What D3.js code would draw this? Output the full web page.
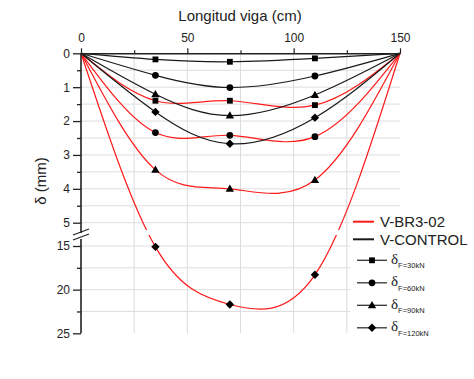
<!DOCTYPE html>
<html><head><meta charset="utf-8">
<script src="https://cdn.jsdelivr.net/npm/d3@7"></script>
<style>body{margin:0;background:#fff;} text{font-family:"Liberation Sans",Arial,sans-serif;fill:#222;}</style>
</head><body>
<svg id="c" width="474" height="379"></svg>
<script>
const positions = [0, 35, 70, 110, 150];
const loadLabels = ["F=30kN", "F=60kN", "F=90kN", "F=120kN"];
const markerTypes = ["square", "circle", "triangle", "diamond"];
const control30 = [0, 0.18, 0.25, 0.15, 0];
const control60 = [0, 0.65, 1.01, 0.67, 0];
const control90 = [0, 1.21, 1.84, 1.23, 0];
const control120 = [0, 1.73, 2.67, 1.90, 0];
const br30 = [0, 1.40, 1.40, 1.53, 0];
const br60 = [0, 2.34, 2.42, 2.46, 0];
const br90 = [0, 3.44, 4.00, 3.74, 0];
const br120 = [0, 15.1, 21.7, 18.3, 0];
const xTicks = [0, 50, 100, 150];
const xMinor = [25, 75, 125];
const yTopTicks = [0, 1, 2, 3, 4, 5];
const yTopMinor = [0.5, 1.5, 2.5, 3.5, 4.5];
const yBotTicks = [15, 20, 25];
const yBotMinor = [17.5, 22.5];
const seriesNames = ["V-BR3-02", "V-CONTROL"];

const RED = "#ff1a1a", BLK = "#1a1a1a";
const svg = d3.select("#c");
const x = d3.scaleLinear().domain([0, 150]).range([81, 400]);
const yTop = d3.scaleLinear().domain([0, 5]).range([53.3, 222.7]);
const yBot = d3.scaleLinear().domain([15, 25]).range([246, 333.3]);
const y = v => v <= 5 ? yTop(v) : yBot(v);

// gridlines
const grid = svg.append("g");
xMinor.concat([50, 100]).forEach(v => {
  grid.append("line").attr("x1", x(v)).attr("x2", x(v)).attr("y1", yTop(0)).attr("y2", yBot(25))
    .attr("stroke", "#dcdcdc").attr("stroke-width", 1);
});
yTopTicks.slice(1).concat(yTopMinor).concat([15, 20]).concat(yBotMinor).forEach(v => {
  grid.append("line").attr("x1", x(0)).attr("x2", x(150)).attr("y1", y(v)).attr("y2", y(v))
    .attr("stroke", "#dedede").attr("stroke-width", 1);
});

// clip paths for break gap
const defs = svg.append("defs");
defs.append("clipPath").attr("id", "cu").append("rect").attr("x", 0).attr("y", 0).attr("width", 474).attr("height", 230);
defs.append("clipPath").attr("id", "cd").append("rect").attr("x", 0).attr("y", 235).attr("width", 474).attr("height", 144);

const line = d3.line().x((d, i) => x(positions[i])).y(d => y(d)).curve(d3.curveNatural);
const sym = {
  square: d3.symbol(d3.symbolSquare, 34),
  circle: d3.symbol(d3.symbolCircle, 36),
  triangle: d3.symbol(d3.symbolTriangle, 30),
  diamond: null
};
function marker(g, type, cx, cy) {
  if (type === "diamond") {
    g.append("path").attr("d", `M${cx},${cy - 4.2}L${cx + 4.2},${cy}L${cx},${cy + 4.2}L${cx - 4.2},${cy}Z`).attr("fill", "#000");
  } else if (type === "triangle") {
    g.append("path").attr("d", sym.triangle()).attr("transform", `translate(${cx},${cy + 0.5})`).attr("fill", "#000");
  } else {
    g.append("path").attr("d", sym[type]()).attr("transform", `translate(${cx},${cy})`).attr("fill", "#000");
  }
}

const controlSeries = [control30, control60, control90, control120];
const brSeries = [br30, br60, br90, br120];
const plot = svg.append("g");
brSeries.forEach((s, k) => {
  if (k === 3) {
    ["cu", "cd"].forEach(c => plot.append("path").attr("d", line(s)).attr("fill", "none")
      .attr("stroke", RED).attr("stroke-width", 1.2).attr("clip-path", `url(#${c})`));
  } else {
    plot.append("path").attr("d", line(s)).attr("fill", "none").attr("stroke", RED).attr("stroke-width", 1.2);
  }
});
controlSeries.forEach(s => {
  plot.append("path").attr("d", line(s)).attr("fill", "none").attr("stroke", BLK).attr("stroke-width", 1.2);
});
brSeries.concat(controlSeries).forEach((s, idx) => {
  const type = markerTypes[idx % 4];
  s.forEach((v, i) => { if (i > 0 && i < s.length - 1) marker(plot, type, x(positions[i]), y(v)); });
});

// top axis
const ax = svg.append("g").attr("transform", `translate(0,${yTop(0)})`);
ax.call(d3.axisTop(x).tickValues(xTicks).tickSize(5).tickSizeOuter(0).tickPadding(6).tickFormat(d3.format("d")));
ax.select(".domain").attr("stroke", "#222").attr("stroke-width", 1.6);
ax.selectAll(".tick line").attr("stroke", "#222").attr("stroke-width", 1.2);
ax.selectAll("text").style("font-size", "12px").style("fill", "#222").attr("font-family", "Liberation Sans");
const axm = svg.append("g").attr("transform", `translate(0,${yTop(0)})`);
axm.call(d3.axisTop(x).tickValues(xMinor).tickSize(3).tickFormat(""));
axm.select(".domain").remove();
axm.selectAll(".tick line").attr("stroke", "#222").attr("stroke-width", 1.2);

// y axes
function yAxis(scale, ticks, minor) {
  const g = svg.append("g").attr("transform", `translate(${x(0)},0)`);
  g.call(d3.axisLeft(scale).tickValues(ticks).tickSize(8).tickPadding(3).tickFormat(d3.format("d")));
  g.select(".domain").remove();
  g.selectAll(".tick line").attr("stroke", "#222").attr("stroke-width", 1.3);
  g.selectAll("text").style("font-size", "12px").style("fill", "#222");
  const m = svg.append("g").attr("transform", `translate(${x(0)},0)`);
  m.call(d3.axisLeft(scale).tickValues(minor).tickSize(4).tickFormat(""));
  m.select(".domain").remove();
  m.selectAll(".tick line").attr("stroke", "#222").attr("stroke-width", 1.3);
}
yAxis(yTop, yTopTicks, yTopMinor);
yAxis(yBot, yBotTicks, yBotMinor);
svg.append("line").attr("x1", x(0)).attr("x2", x(0)).attr("y1", yTop(0)).attr("y2", 233).attr("stroke", "#222").attr("stroke-width", 1.6);
svg.append("line").attr("x1", x(0)).attr("x2", x(0)).attr("y1", 239).attr("y2", yBot(25)).attr("stroke", "#222").attr("stroke-width", 1.6);
[0, 5].forEach(o => svg.append("line").attr("x1", 73).attr("y1", 235 + o).attr("x2", 89).attr("y2", 229 + o)
  .attr("stroke", "#222").attr("stroke-width", 1.2));

// titles
svg.append("text").attr("x", 240).attr("y", 20.5).attr("text-anchor", "middle").style("font-size", "15px").text("Longitud viga (cm)");
svg.append("text").attr("transform", "translate(46,181) rotate(-90)").attr("text-anchor", "middle").style("font-size", "15px").text("δ (mm)");

// legend
const lg = svg.append("g");
lg.append("rect").attr("x", 350).attr("y", 212).attr("width", 124).attr("height", 128).attr("fill", "#fff");
[RED, BLK].forEach((c, i) => {
  const cy = 221.7 + i * 17.6;
  lg.append("line").attr("x1", 353).attr("x2", 374).attr("y1", cy).attr("y2", cy).attr("stroke", c).attr("stroke-width", 2);
  lg.append("text").attr("x", 380).attr("y", cy + 5.3).style("font-size", "15px").text(seriesNames[i]);
});
loadLabels.forEach((lab, i) => {
  const cy = 260.3 + i * 22.5;
  lg.append("line").attr("x1", 357).attr("x2", 387).attr("y1", cy).attr("y2", cy).attr("stroke", "#333").attr("stroke-width", 1.3);
  marker(lg, markerTypes[i], 372, cy);
  const t = lg.append("text").attr("x", 391).attr("y", cy + 3.5);
  t.append("tspan").style("font-size", "15px").style("font-family", "Liberation Serif").text("δ");
  t.append("tspan").attr("dy", 4.5).style("font-size", "7.5px").text(lab);
});
</script>
</body></html>
